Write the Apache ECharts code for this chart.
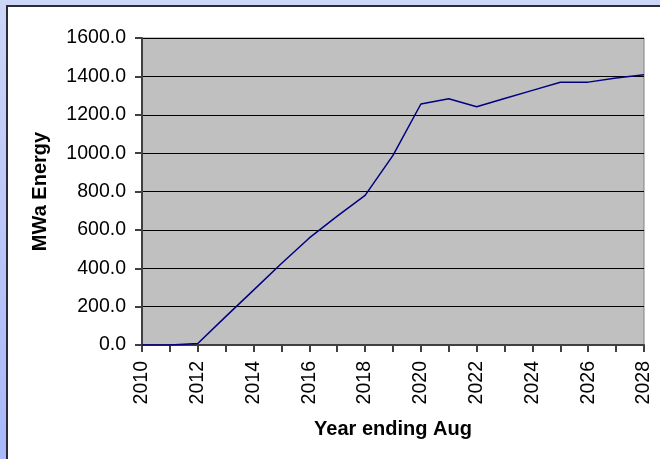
<!DOCTYPE html>
<html>
<head>
<meta charset="utf-8">
<script src="https://cdn.jsdelivr.net/npm/echarts@6/dist/echarts.min.js"></script>
<style>
html,body{margin:0;padding:0;background:#c0ccf8;}
#chart{width:660px;height:459px;}
</style>
</head>
<body>
<div id="chart"></div>
<script>
const years = ['2010','2011','2012','2013','2014','2015','2016','2017','2018','2019','2020','2021','2022','2023','2024','2025','2026','2027','2028'];
const energy = [0, 0, 8, 148, 286, 425, 558, 672, 780, 988, 1256, 1283, 1242, 1285, 1327, 1369, 1370, 1392, 1409];
const yTicks = { min: 0, max: 1600, interval: 200 };

const chart = echarts.init(document.getElementById('chart'), null, {renderer: 'canvas'});
const font = 'Liberation Sans, Arial, sans-serif';
chart.setOption({
  backgroundColor: {
    type: 'linear', x: 0, y: 0, x2: 0, y2: 1,
    colorStops: [{ offset: 0, color: '#ccd6f8' }, { offset: 1, color: '#a8b8f8' }]
  },
  animation: false,
  graphic: [{
    type: 'rect', z: -10, silent: true,
    shape: { x: 7, y: 6, width: 700, height: 500 },
    style: { fill: '#ffffff', stroke: '#2a2a38', lineWidth: 2 }
  }],
  grid: {
    left: 142, top: 38, right: 16, bottom: 114,
    show: true, backgroundColor: '#c0c0c0', borderColor: '#808080', borderWidth: 1
  },
  xAxis: {
    type: 'category', data: years, boundaryGap: false,
    name: 'Year ending Aug', nameLocation: 'middle', nameGap: 74,
    nameTextStyle: { fontFamily: font, fontSize: 20, fontWeight: 'bold', color: '#000' },
    axisLine: { lineStyle: { color: '#404040', width: 2 } },
    axisTick: { interval: 0, length: 7, lineStyle: { color: '#404040', width: 2 } },
    axisLabel: { interval: 1, rotate: 90, fontFamily: font, fontSize: 19.5, color: '#000', margin: 16 },
    splitLine: { show: false }
  },
  yAxis: {
    type: 'value', min: yTicks.min, max: yTicks.max, interval: yTicks.interval,
    name: 'MWa Energy', nameLocation: 'middle', nameGap: 92,
    nameTextStyle: { fontFamily: font, fontSize: 20, fontWeight: 'bold', color: '#000' },
    axisLine: { show: true, lineStyle: { color: '#404040', width: 2 } },
    axisTick: { show: true, length: 7, lineStyle: { color: '#404040', width: 2 } },
    axisLabel: { fontFamily: font, fontSize: 19.5, color: '#000', margin: 16, formatter: v => v.toFixed(1) },
    splitLine: { lineStyle: { color: '#000', width: 1 } }
  },
  series: [{
    type: 'line', data: energy, symbol: 'none',
    lineStyle: { color: '#000080', width: 1.5 }
  }]
});
</script>
</body>
</html>
